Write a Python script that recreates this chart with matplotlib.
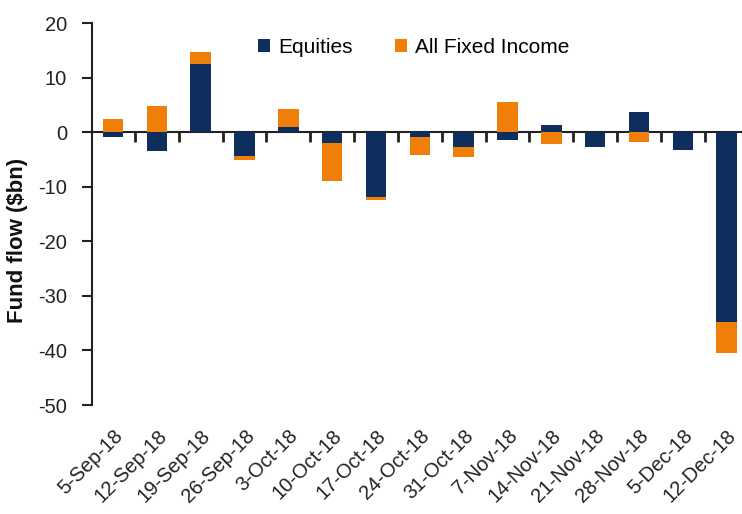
import numpy as np
import matplotlib.pyplot as plt

plt.rcParams['font.family'] = ['Liberation Sans', 'DejaVu Sans']
plt.rcParams['axes.unicode_minus'] = False

weeks = ['5-Sep-18', '12-Sep-18', '19-Sep-18', '26-Sep-18', '3-Oct-18', '10-Oct-18',
         '17-Oct-18', '24-Oct-18', '31-Oct-18', '7-Nov-18', '14-Nov-18', '21-Nov-18',
         '28-Nov-18', '5-Dec-18', '12-Dec-18']
equities = [-0.9, -3.5, 12.6, -4.3, 1.0, -2.0, -11.9, -0.8, -2.7, -1.4, 1.3, -2.7, 3.7, -3.3, -34.8]
fixed_income = [2.4, 4.8, 2.1, -0.8, 3.2, -7.0, -0.6, -3.4, -1.9, 5.5, -2.1, 0.0, -1.8, 0.0, -5.7]

navy = '#0E2F5E'
orange = '#F07F0A'
ink = '#222222'

fig = plt.figure(figsize=(7.42, 5.14), dpi=100)
ax = fig.add_axes([0.124, 0.212, 0.876, 0.743])

x = np.arange(len(weeks))
eq = np.array(equities)
fi = np.array(fixed_income)
w = 0.47

# stack positives on positives, negatives on negatives
pos_base = np.zeros(len(x))
neg_base = np.zeros(len(x))
for vals, col, lab in [(eq, navy, 'Equities'), (fi, orange, 'All Fixed Income')]:
    bottom = np.where(vals >= 0, pos_base, neg_base)
    ax.bar(x, vals, w, bottom=bottom, color=col, label=lab, zorder=2)
    pos_base = pos_base + np.clip(vals, 0, None)
    neg_base = neg_base + np.clip(vals, None, 0)

ax.set_xlim(-0.48, 14.35)
ax.set_ylim(-50, 20)
ax.set_yticks(np.arange(-50, 21, 10))
ax.tick_params(axis='y', direction='out', length=7, width=1.5, labelsize=14.5,
               color=ink, labelcolor=ink, pad=11)

ax.set_xticks(x)
ax.set_xticklabels(weeks, rotation=45, ha='right', rotation_mode='anchor',
                   fontsize=14.5, color=ink)
ax.tick_params(axis='x', length=0, pad=15)

for s in ['top', 'right', 'bottom']:
    ax.spines[s].set_visible(False)
ax.spines['left'].set_linewidth(1.5)
ax.spines['left'].set_color(ink)

# zero line with ticks between the weeks
zero_ax = ax.secondary_xaxis(50 / 70)
zero_ax.set_xticks(x[:-1] + 0.5)
zero_ax.set_xticklabels([])
zero_ax.tick_params(direction='in', length=7, width=2, color=ink)
for sp in zero_ax.spines.values():
    sp.set_linewidth(1.5)
    sp.set_color(ink)

ax.set_ylabel('Fund flow ($bn)', fontsize=16, fontweight='bold', color='#111111')
ax.yaxis.set_label_coords(-0.098, 0.43)

ax.legend(loc='upper center', bbox_to_anchor=(0.495, 1.0), ncol=2, frameon=False,
          fontsize=15, handlelength=0.6, handleheight=0.6, handletextpad=0.4,
          columnspacing=2.0, borderaxespad=0.3)

fig.savefig('out.png', dpi=100)
